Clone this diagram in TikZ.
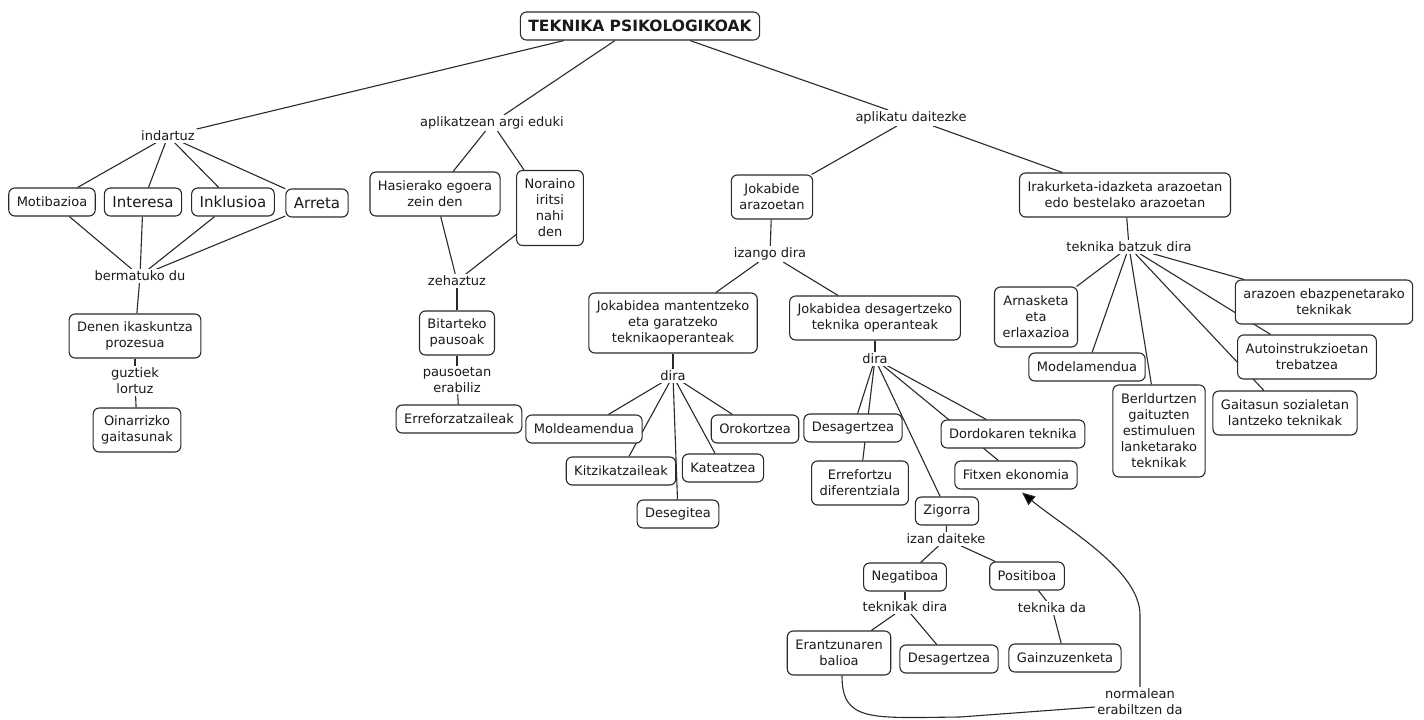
\documentclass[tikz,border=0pt]{standalone}
\usepackage{fontspec}
\setmainfont{DejaVu Sans}
\usetikzlibrary{backgrounds,arrows.meta}
\definecolor{ln}{HTML}{2A2A2A}
\definecolor{tx}{HTML}{1A1A1A}
\newcommand\fsn{\fontsize{13}{16}\selectfont}
\newcommand\fsb{\fontsize{15}{18}\selectfont}
\newcommand\fst{\fontsize{15.5}{18}\selectfont\bfseries}
\begin{document}
\begin{tikzpicture}[x=1pt,y=-1pt,
  box/.style={draw=ln, line width=1.1pt, rounded corners=6pt, fill=white, text=tx,
    inner xsep=8pt, inner ysep=3pt, align=center, font=\fsn, minimum height=28pt},
  h2/.style={minimum height=44pt},
  h3/.style={minimum height=60pt},
  h4/.style={minimum height=75pt},
  h5/.style={minimum height=92pt},
  lp/.style={fill=white, text=tx, inner xsep=2pt, inner ysep=1.5pt, align=center, font=\fsn},
  con/.style={draw=ln, line width=1.1pt}]
\useasboundingbox (0,0) rectangle (1424,720);

% title and first level
\node[box,font=\fst] (title) at (640,26) {TEKNIKA PSIKOLOGIKOAK};
\node[lp] (ind) at (168,136) {indartuz};
\node[lp] (arg) at (492,123) {aplikatzean argi eduki};
\node[lp] (dai) at (911,118) {aplikatu daitezke};

% left branch
\node[box] (mot) at (52,202) {Motibazioa};
\node[box,font=\fsb] (int) at (143,202) {Interesa};
\node[box,font=\fsb] (ink) at (233,202) {Inklusioa};
\node[box,font=\fsb] (arr) at (317,203) {Arreta};
\node[lp] (ber) at (140,276) {bermatuko du};
\node[box,h2] (den) at (135,336) {Denen ikaskuntza\\prozesua};
\node[lp] (guz) at (135,381) {guztiek\\lortuz};
\node[box,h2] (oin) at (137,430) {Oinarrizko\\gaitasunak};

% middle-left branch
\node[box,h2] (has) at (435,194) {Hasierako egoera\\zein den};
\node[box,h4] (nor) at (550,208) {Noraino\\iritsi\\nahi\\den};
\node[lp] (zeh) at (457,281) {zehaztuz};
\node[box,h2] (bit) at (457,333) {Bitarteko\\pausoak};
\node[lp] (pau) at (457,380) {pausoetan\\erabiliz};
\node[box] (erre) at (459,419) {Erreforzatzaileak};

% middle branch
\node[box,h2] (jok) at (772,197) {Jokabide\\arazoetan};
\node[lp] (iza) at (770,254) {izango dira};
\node[box,h3] (man) at (673,323) {Jokabidea mantentzeko\\eta garatzeko\\teknikaoperanteak};
\node[box,h2] (des) at (875,318) {Jokabidea desagertzeko\\teknika operanteak};
\node[lp] (dA) at (673,376) {dira};
\node[lp] (dB) at (875,359) {dira};
\node[box] (mol) at (584,429) {Moldeamendua};
\node[box] (kit) at (621,471) {Kitzikatzaileak};
\node[box] (dsg) at (678,514) {Desegitea};
\node[box] (kat) at (723,468) {Kateatzea};
\node[box] (oro) at (755,429) {Orokortzea};
\node[box] (dsA) at (853,428) {Desagertzea};
\node[box,h2] (ref) at (860,483) {Errefortzu\\diferentziala};
\node[box] (dor) at (1013,434) {Dordokaren teknika};
\node[box] (fit) at (1016,475) {Fitxen ekonomia};
\node[box] (zig) at (947,511) {Zigorra};
\node[lp] (izd) at (946,539) {izan daiteke};
\node[box] (neg) at (905,577) {Negatiboa};
\node[box] (pos) at (1027,576) {Positiboa};
\node[lp] (tkd) at (905,607) {teknikak dira};
\node[lp] (tda) at (1052,608) {teknika da};
\node[box,h2] (era) at (839,653) {Erantzunaren\\balioa};
\node[box] (dsB) at (949,659) {Desagertzea};
\node[box] (gai) at (1065,658) {Gainzuzenketa};
\node[lp] (nrm) at (1140,702) {normalean\\erabiltzen da};

% right branch
\node[box,h2] (ira) at (1125,195) {Irakurketa-idazketa arazoetan\\edo bestelako arazoetan};
\node[lp] (tbd) at (1129,247) {teknika batzuk dira};
\node[box,h3] (arn) at (1036,317) {Arnasketa\\eta\\erlaxazioa};
\node[box] (mod) at (1087,367) {Modelamendua};
\node[box,h5] (bel) at (1159,431) {Berldurtzen\\gaituzten\\estimuluen\\lanketarako\\teknikak};
\node[box,h2] (ara) at (1324,302) {arazoen ebazpenetarako\\teknikak};
\node[box,h2] (aut) at (1307,357) {Autoinstrukzioetan\\trebatzea};
\node[box,h2] (gts) at (1285,413) {Gaitasun sozialetan\\lantzeko teknikak};

\begin{scope}[on background layer]
\fill[white] (0,0) rectangle (1424,720);
\draw[con] ([xshift=-76pt]title.south) -- (ind);
\draw[con] ([xshift=-25pt]title.south) -- (arg);
\draw[con] ([xshift=50pt]title.south) -- (dai);
\foreach \a/\b in {ind/mot, ind/int, ind/ink, ind/arr, mot/ber, int/ber, ink/ber, arr/ber,
  ber/den, den/guz, guz/oin, arg/has, arg/nor, has/zeh, nor/zeh, zeh/bit, bit/pau, pau/erre,
  dai/jok, dai/ira, jok/iza, iza/man, iza/des, man/dA, des/dB,
  dA/mol, dA/kit, dA/dsg, dA/kat, dA/oro,
  dB/dsA, dB/ref, dB/zig, dB/dor, dB/fit,
  zig/izd, izd/neg, izd/pos, neg/tkd, tkd/era, tkd/dsB, pos/tda, tda/gai,
  ira/tbd, tbd/arn, tbd/mod, tbd/bel, tbd/gts, tbd/aut, tbd/ara}
  \draw[con] (\a) -- (\b);
\draw[con] ([xshift=3pt]era.south) .. controls (842,722) and (870,718) .. (960,717) -- ([yshift=-5pt]nrm.west);
\draw[con, -{Triangle[length=13pt,width=11pt,fill=black]}] (nrm.north) -- (1140,615) .. controls (1140,570) and (1065,528) .. ([xshift=6pt,yshift=-3pt]fit.south);
\end{scope}
\end{tikzpicture}
\end{document}
